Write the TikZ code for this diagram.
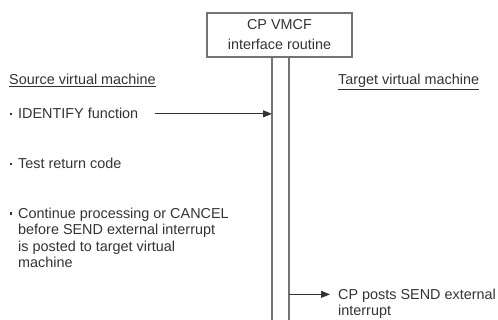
\documentclass[tikz,border=0pt]{standalone}
\usepackage{fontspec}
\setmainfont{Liberation Sans}
\usetikzlibrary{positioning,arrows.meta,calc}
\newcommand{\itemmark}{\llap{\raisebox{3.5pt}{\rule{2.6pt}{2.6pt}}\hspace{6pt}}}

\begin{document}
\begin{tikzpicture}[
    x=1pt, y=-1pt,
    routine/.style={rectangle, draw=black!55, line width=1.6pt, minimum width=145pt, minimum height=44pt, align=center, text=black!80, font=\fontsize{14.4}{20}\selectfont},
    note/.style={inner sep=0pt, anchor=base west, align=left, text=black!80, font=\fontsize{14.4}{16.5}\selectfont},
    lifeline/.style={draw=black!55, line width=1.4pt},
    arrow/.style={-{Triangle[length=9pt,width=7pt]}, line width=1pt, draw=black!80}
]
\useasboundingbox (0,0) rectangle (498,320);

% CP routine
\node[routine] (cpvmcf) at (279.5,35) {CP VMCF\\interface routine};
\coordinate (bottom) at (0,320);
\coordinate (srctop) at ([xshift=-7.5pt]cpvmcf.south);
\coordinate (tgttop) at ([xshift=9.5pt]cpvmcf.south);

% Headings
\node[note] (source) at (9,85) {\underline{Source virtual machine}};
\node[note] (target) at (338,85) {\underline{Target virtual machine}};

% Source side (base = last line)
\node[note] (identify) at (18,119) {\itemmark IDENTIFY function};
\node[note] (testrc) at (18,169) {\itemmark Test return code};
\node[note] (cont) at (18,268) {\itemmark Continue processing or CANCEL\\before SEND external interrupt\\is posted to target virtual\\machine};

% Target side
\node[note] (cpposts) at (338,316) {CP posts SEND external\\interrupt};

% Lines
\draw[lifeline] (srctop) -- (srctop |- bottom);
\draw[lifeline] (tgttop) -- (tgttop |- bottom);

% Arrows
\draw[arrow] ([xshift=17pt]identify.east) -- (identify.east -| srctop);
\draw[arrow] ([yshift=-5.5pt]cpposts.north west -| tgttop) -- ([xshift=-8pt,yshift=-5.5pt]cpposts.north west);

\end{tikzpicture}
\end{document}
